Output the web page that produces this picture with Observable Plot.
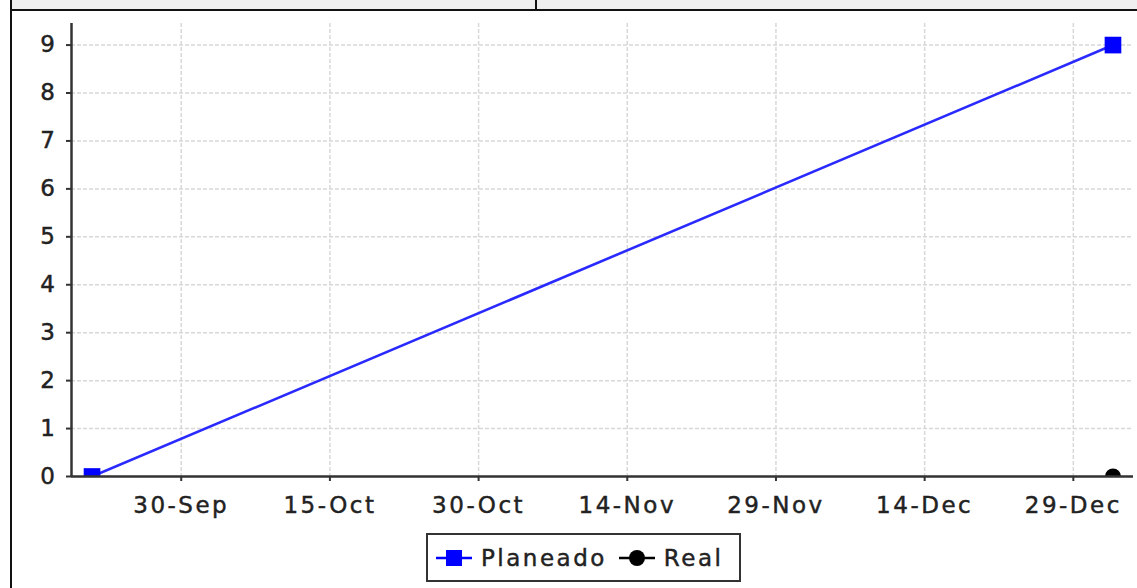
<!DOCTYPE html>
<html>
<head>
<meta charset="utf-8">
<script src="https://cdn.jsdelivr.net/npm/d3@7"></script>
<script src="https://cdn.jsdelivr.net/npm/@observablehq/plot@0.6"></script>
<style>
  html, body { margin: 0; padding: 0; background: #fff; }
  #wrap { position: relative; width: 1137px; height: 588px; overflow: hidden; background: #fff; }
  #strip { position: absolute; left: 11px; top: 0; width: 1126px; height: 9px; background: #efefef; border-bottom: 2px solid #111; }
  #divider { position: absolute; left: 535px; top: 0; width: 2px; height: 9px; background: #111; }
  #lborder { position: absolute; left: 10px; top: 0; width: 2px; height: 588px; background: #111; }
  #chart { position: absolute; left: 0; top: 0; }
  #chart text { stroke: #222; stroke-width: 0.45px; }
  #legend { position: absolute; left: 426px; top: 533px; width: 311px; height: 45px; border: 2px solid #333; box-sizing: content-box;
            display: flex; align-items: center; font-family: "DejaVu Sans", sans-serif; font-size: 23px; letter-spacing: 2.5px; color: #222;
            -webkit-text-stroke: 0.45px #222; }
  #legend svg { display: block; }
  .item { display: flex; align-items: center; }
</style>
</head>
<body>
<div id="wrap">
  <div id="chart"></div>
  <div id="strip"></div>
  <div id="divider"></div>
  <div id="lborder"></div>
  <div id="legend"></div>
</div>
<script>
// Data
const seriesNames = ["Planeado", "Real"];
const planeadoDates = ["2014-09-21", "2015-01-02"];
const planeadoValues = [0, 9];
const realDates = ["2015-01-02"];
const realValues = [0];
const xTickDates = ["2014-09-30", "2014-10-15", "2014-10-30", "2014-11-14", "2014-11-29", "2014-12-14", "2014-12-29"];
const yTicks = [0, 1, 2, 3, 4, 5, 6, 7, 8, 9];

const planeado = planeadoDates.map((d, i) => ({date: new Date(d), value: planeadoValues[i]}));
const real = realDates.map((d, i) => ({date: new Date(d), value: realValues[i]}));
const xTicks = xTickDates.map(d => new Date(d));

const day = 86400000;
const x0 = new Date(planeado[0].date.getTime() - 2.07 * day);
const x1 = new Date(planeado[1].date.getTime() + 2.07 * day);

const fmt = d3.utcFormat("%d-%b");

const chart = Plot.plot({
  width: 1137,
  height: 525,
  marginTop: 23,
  marginBottom: 49,
  marginLeft: 71,
  marginRight: 4,
  style: {fontFamily: "DejaVu Sans, sans-serif", fontSize: "23px", letterSpacing: "2.5px", background: "transparent", color: "#222"},
  x: {type: "utc", domain: [x0, x1]},
  y: {domain: [0, 9.45]},
  marks: [
    Plot.gridX(xTicks, {stroke: "#d8d8d8", strokeOpacity: 1, strokeDasharray: "4,2", strokeWidth: 1.5}),
    Plot.gridY(yTicks, {stroke: "#d8d8d8", strokeOpacity: 1, strokeDasharray: "4,2", strokeWidth: 1.5}),
    Plot.line(planeado, {x: "date", y: "value", stroke: "#2a2aff", strokeWidth: 2.6, clip: true}),
    Plot.dot(planeado, {x: "date", y: "value", symbol: "square", r: 9.4, fill: "#0000ff", stroke: "none", clip: true}),
    Plot.dot(real, {x: "date", y: "value", r: 8, fill: "#000", stroke: "none", clip: true}),
    Plot.ruleY([0], {stroke: "#333", strokeWidth: 2.5}),
    Plot.ruleX([x0], {stroke: "#333", strokeWidth: 2.5}),
    Plot.axisX(xTicks, {tickFormat: fmt, tickSize: 5, tickPadding: 15, stroke: "#333", strokeWidth: 2, fill: "#222", label: null}),
    Plot.axisY(yTicks, {tickSize: 5, tickPadding: 9, stroke: "#333", strokeWidth: 2, fill: "#222", label: null})
  ]
});
document.getElementById("chart").appendChild(chart);

// Legend
const legend = document.getElementById("legend");
const symbols = [
  `<svg width="40" height="24"><line x1="2" y1="12" x2="38" y2="12" stroke="#0000ff" stroke-width="2.5"/><rect x="12" y="4" width="16" height="16" fill="#0000ff"/></svg>`,
  `<svg width="40" height="24"><line x1="2" y1="12" x2="38" y2="12" stroke="#000" stroke-width="2.5"/><circle cx="20" cy="12" r="8" fill="#000"/></svg>`
];
seriesNames.forEach((name, i) => {
  const item = document.createElement("div");
  item.className = "item";
  item.style.marginLeft = i === 0 ? "6px" : "10px";
  item.innerHTML = symbols[i] + `<span style="margin-left:7px">${name}</span>`;
  legend.appendChild(item);
});
</script>
</body>
</html>
